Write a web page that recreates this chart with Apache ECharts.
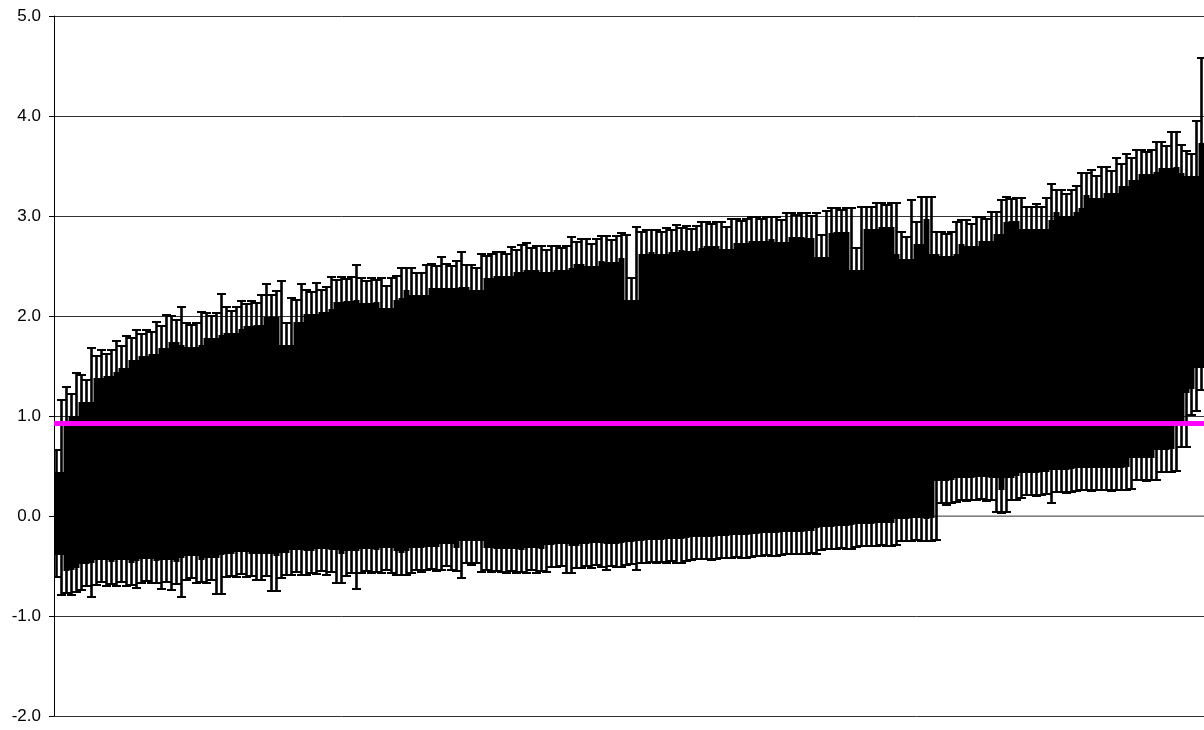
<!DOCTYPE html>
<html>
<head>
<meta charset="utf-8">
<script src="https://cdn.jsdelivr.net/npm/echarts@6/dist/echarts.min.js"></script>
<style>
  html, body { margin: 0; padding: 0; background: #fff; }
  #chart { width: 1204px; height: 730px; }
</style>
</head>
<body>
<div id="chart"></div>
<script>
// upper / lower end of every error bar, ranked left to right
var upper = [
  0.66, 1.16, 1.29, 1.22, 1.43, 1.41, 1.36, 1.68, 1.60, 1.66,
  1.62, 1.66, 1.75, 1.70, 1.80, 1.78, 1.86, 1.82, 1.86, 1.84,
  1.94, 1.90, 2.01, 2.00, 1.96, 2.09, 1.93, 1.91, 1.93, 2.04,
  2.03, 2.00, 2.03, 2.22, 2.09, 2.05, 2.09, 2.15, 2.12, 2.15,
  2.13, 2.21, 2.32, 2.21, 2.25, 2.35, 1.93, 2.18, 2.16, 2.32,
  2.26, 2.24, 2.33, 2.26, 2.29, 2.39, 2.36, 2.39, 2.37, 2.39,
  2.51, 2.38, 2.35, 2.38, 2.36, 2.38, 2.30, 2.38, 2.40, 2.48,
  2.48, 2.48, 2.43, 2.43, 2.51, 2.52, 2.50, 2.59, 2.52, 2.50,
  2.55, 2.64, 2.51, 2.51, 2.48, 2.62, 2.60, 2.62, 2.64, 2.64,
  2.62, 2.69, 2.66, 2.71, 2.73, 2.68, 2.70, 2.70, 2.66, 2.70,
  2.70, 2.68, 2.70, 2.79, 2.74, 2.77, 2.77, 2.72, 2.77, 2.80,
  2.80, 2.76, 2.80, 2.83, 2.81, 2.38, 2.89, 2.84, 2.86, 2.86,
  2.86, 2.84, 2.88, 2.86, 2.91, 2.88, 2.90, 2.87, 2.90, 2.94,
  2.94, 2.92, 2.94, 2.94, 2.89, 2.97, 2.97, 2.95, 2.97, 2.99,
  2.99, 2.97, 2.99, 2.99, 2.99, 2.96, 3.03, 3.03, 3.01, 3.03,
  3.03, 3.00, 3.03, 2.81, 3.05, 3.08, 3.08, 3.06, 3.08, 3.08,
  2.68, 3.09, 3.09, 3.09, 3.13, 3.13, 3.11, 3.13, 3.13, 2.84,
  2.79, 3.16, 2.94, 3.19, 3.19, 3.19, 2.84, 2.84, 2.82, 2.84,
  2.94, 2.96, 2.96, 2.92, 2.99, 2.99, 2.97, 3.04, 3.04, 3.16,
  3.19, 3.17, 3.18, 3.18, 3.09, 3.09, 3.12, 3.09, 3.18, 3.32,
  3.26, 3.26, 3.22, 3.26, 3.30, 3.43, 3.43, 3.46, 3.40, 3.49,
  3.49, 3.45, 3.58, 3.52, 3.62, 3.58, 3.66, 3.66, 3.64, 3.66,
  3.74, 3.74, 3.70, 3.84, 3.84, 3.71, 3.65, 3.62, 3.95, 4.58
];
var lower = [
  -0.61, -0.79, -0.77, -0.79, -0.76, -0.74, -0.70, -0.81, -0.69, -0.66,
  -0.70, -0.68, -0.70, -0.66, -0.70, -0.69, -0.72, -0.67, -0.65, -0.67,
  -0.67, -0.73, -0.66, -0.74, -0.68, -0.81, -0.64, -0.62, -0.67, -0.66,
  -0.67, -0.64, -0.78, -0.78, -0.61, -0.60, -0.61, -0.58, -0.61, -0.60,
  -0.64, -0.64, -0.60, -0.75, -0.75, -0.62, -0.59, -0.59, -0.56, -0.59,
  -0.59, -0.57, -0.58, -0.55, -0.59, -0.56, -0.67, -0.67, -0.60, -0.57,
  -0.73, -0.57, -0.55, -0.57, -0.56, -0.57, -0.54, -0.57, -0.59, -0.59,
  -0.59, -0.57, -0.54, -0.56, -0.54, -0.53, -0.55, -0.54, -0.50, -0.54,
  -0.55, -0.62, -0.47, -0.49, -0.47, -0.56, -0.54, -0.56, -0.55, -0.56,
  -0.57, -0.55, -0.57, -0.56, -0.57, -0.54, -0.57, -0.55, -0.56, -0.51,
  -0.51, -0.50, -0.57, -0.57, -0.52, -0.52, -0.50, -0.52, -0.49, -0.51,
  -0.54, -0.50, -0.51, -0.51, -0.49, -0.48, -0.54, -0.47, -0.47, -0.46,
  -0.47, -0.46, -0.47, -0.45, -0.47, -0.47, -0.45, -0.44, -0.43, -0.43,
  -0.43, -0.44, -0.43, -0.42, -0.42, -0.42, -0.41, -0.42, -0.42, -0.41,
  -0.40, -0.40, -0.39, -0.40, -0.40, -0.39, -0.38, -0.38, -0.38, -0.38,
  -0.38, -0.37, -0.38, -0.34, -0.33, -0.33, -0.33, -0.32, -0.33, -0.33,
  -0.31, -0.30, -0.30, -0.30, -0.30, -0.29, -0.30, -0.30, -0.29, -0.25,
  -0.25, -0.25, -0.24, -0.25, -0.25, -0.25, -0.24, 0.13, 0.11, 0.13,
  0.14, 0.16, 0.15, 0.16, 0.16, 0.17, 0.15, 0.16, 0.04, 0.03,
  0.04, 0.16, 0.16, 0.18, 0.21, 0.21, 0.20, 0.21, 0.22, 0.13,
  0.24, 0.24, 0.23, 0.24, 0.25, 0.26, 0.26, 0.25, 0.26, 0.26,
  0.26, 0.25, 0.26, 0.26, 0.26, 0.27, 0.36, 0.36, 0.35, 0.36,
  0.36, 0.44, 0.44, 0.44, 0.45, 0.69, 0.69, 1.01, 1.05, 1.26
];
var refLevel = 0.93;   // magenta reference line
var yTicks = [-2, -1, 0, 1, 2, 3, 4, 5];

var categories = upper.map(function (v, i) { return i + 1; });
var barData = upper.map(function (v, i) { return [i, v, lower[i]]; });

var myChart = echarts.init(document.getElementById('chart'));

// bars pile up into a solid block: fill between the lowest top and highest
// bottom of the neighbouring bars, whiskers stick out beyond it
function renderBar(params, api) {
  var i = params.dataIndex;
  var top = api.coord([api.value(0), api.value(1)]);
  var bot = api.coord([api.value(0), api.value(2)]);
  var w = api.size([1, 0])[0];
  var cx = top[0];
  var a = Math.max(0, i - 1), b = Math.min(upper.length - 1, i + 1);
  var coreHi = Infinity, coreLo = -Infinity;
  for (var k = a; k <= b; k++) {
    coreHi = Math.min(coreHi, upper[k]);
    coreLo = Math.max(coreLo, lower[k]);
  }
  var cTop = api.coord([api.value(0), coreHi - 0.22])[1];
  var cBot = api.coord([api.value(0), coreLo + 0.22])[1];
  var capW = 4.5;
  var kids = [];
  if (cBot > cTop) {
    kids.push({ type: 'rect', shape: { x: cx - w / 2 - 0.5, y: cTop, width: w + 1, height: cBot - cTop }, style: { fill: '#000' } });
  }
  kids.push({ type: 'line', shape: { x1: cx, y1: top[1], x2: cx, y2: bot[1] }, style: { stroke: '#000', lineWidth: 2.6 } });
  kids.push({ type: 'line', shape: { x1: cx - capW, y1: top[1], x2: cx + capW, y2: top[1] }, style: { stroke: '#000', lineWidth: 2 } });
  kids.push({ type: 'line', shape: { x1: cx - capW, y1: bot[1], x2: cx + capW, y2: bot[1] }, style: { stroke: '#000', lineWidth: 2 } });
  return { type: 'group', children: kids };
}

myChart.setOption({
  animation: false,
  backgroundColor: '#fff',
  grid: { left: 54, right: 0, top: 16, bottom: 14 },
  xAxis: {
    type: 'category',
    data: categories,
    boundaryGap: true,
    axisLine: { show: true, lineStyle: { color: '#999', width: 1.5 } },
    axisTick: { show: false },
    axisLabel: { show: false },
    splitLine: { show: false }
  },
  yAxis: {
    type: 'value',
    min: yTicks[0],
    max: yTicks[yTicks.length - 1],
    interval: 1,
    axisLine: { show: true, lineStyle: { color: '#000', width: 1 } },
    axisTick: { show: true, length: 5, lineStyle: { color: '#000' } },
    axisLabel: {
      margin: 13,
      color: '#000',
      fontFamily: 'Liberation Sans, Arial, sans-serif',
      fontSize: 17,
      formatter: function (v) { return v.toFixed(1); }
    },
    splitLine: { show: true, lineStyle: { color: '#333', width: 1 } }
  },
  series: [
    {
      type: 'custom',
      renderItem: renderBar,
      encode: { x: 0, y: [1, 2] },
      data: barData,
      clip: true,
      z: 2
    },
    {
      type: 'line',
      data: [],
      z: 5,
      markLine: {
        silent: true,
        symbol: 'none',
        label: { show: false },
        lineStyle: { color: '#ff00ff', width: 5, type: 'solid' },
        data: [{ yAxis: refLevel }]
      }
    }
  ]
});
</script>
</body>
</html>
